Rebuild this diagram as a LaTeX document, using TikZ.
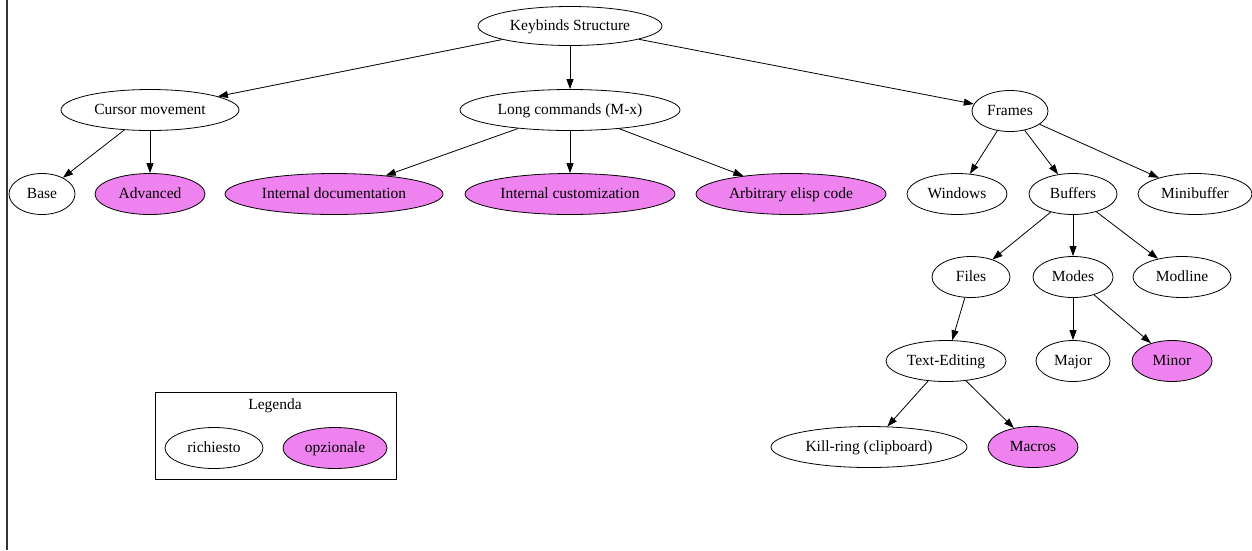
\documentclass[tikz,border=0pt]{standalone}
\usepackage{fontspec}
\setmainfont{Liberation Serif}
\usetikzlibrary{positioning,shapes.geometric,arrows.meta}

\definecolor{optviolet}{HTML}{EE82EE}

\begin{document}
\begin{tikzpicture}[x=1pt,y=1pt,
    every node/.style={font=\fontsize{15.5}{18}\selectfont},
    req/.style={ellipse,draw,line width=0.8pt,inner sep=0pt,minimum height=41pt,
      text height=12pt,text depth=2.5pt},
    opt/.style={req,fill=optviolet},
    arr/.style={line width=0.8pt,-{Triangle[length=10pt,width=7pt]}},
    node distance=80pt]
  \useasboundingbox (0,0) rectangle (1252,-550);
  \coordinate (edgetop) at (7,0);
  \coordinate (edgebot) at (7,-550);
  \draw[line width=1.4pt,black!80] (edgetop) -- (edgebot);

  % main tree
  \node (keys) [req,minimum width=184pt,minimum height=39pt] at (570,-26) {Keybinds Structure};
  \node (cursor) [req,minimum width=178pt,on grid,below left=84pt and 420pt of keys] {Cursor movement};
  \node (longcmd) [req,minimum width=220pt,on grid,below=84pt of keys] {Long commands (M-x)};
  \node (frames) [req,minimum width=76pt,on grid,below right=85pt and 440pt of keys] {Frames};

  \node (base) [req,minimum width=66pt,on grid,below left=84pt and 108pt of cursor] {Base};
  \node (advanced) [opt,minimum width=110pt,on grid,below=84pt of cursor] {Advanced};
  \node (intdoc) [opt,minimum width=218pt,on grid,below left=84pt and 236pt of longcmd] {Internal documentation};
  \node (intcust) [opt,minimum width=210pt,on grid,below=84pt of longcmd] {Internal customization};
  \node (elisp) [opt,minimum width=190pt,on grid,below right=84pt and 221pt of longcmd] {Arbitrary elisp code};

  \node (windows) [req,minimum width=100pt,on grid,below left=83pt and 53pt of frames] {Windows};
  \node (buffers) [req,minimum width=88pt,on grid,below right=83pt and 63pt of frames] {Buffers};
  \node (minibuf) [req,minimum width=114pt,on grid,below right=83pt and 185pt of frames] {Minibuffer};

  \node (files) [req,minimum width=78pt,on grid,below left=83pt and 102pt of buffers] {Files};
  \node (modes) [req,minimum width=80pt,on grid,below=83pt of buffers] {Modes};
  \node (modline) [req,minimum width=98pt,on grid,below right=83pt and 109pt of buffers] {Modline};

  \node (textedit) [req,minimum width=120pt,on grid,below left=84pt and 25pt of files] {Text-Editing};
  \node (major) [req,minimum width=74pt,on grid,below=84pt of modes] {Major};
  \node (minor) [opt,minimum width=80pt,on grid,below right=84pt and 99pt of modes] {Minor};

  \node (killring) [req,minimum width=196pt,on grid,below left=86pt and 77pt of textedit] {Kill-ring (clipboard)};
  \node (macros) [opt,minimum width=90pt,on grid,below right=86pt and 87pt of textedit] {Macros};

  \draw[arr] (keys) -- (cursor);
  \draw[arr] (keys) -- (longcmd);
  \draw[arr] (keys) -- (frames);
  \draw[arr] (cursor) -- (base);
  \draw[arr] (cursor) -- (advanced);
  \draw[arr] (longcmd) -- (intdoc);
  \draw[arr] (longcmd) -- (intcust);
  \draw[arr] (longcmd) -- (elisp);
  \draw[arr] (frames) -- (windows);
  \draw[arr] (frames) -- (buffers);
  \draw[arr] (frames) -- (minibuf);
  \draw[arr] (buffers) -- (files);
  \draw[arr] (buffers) -- (modes);
  \draw[arr] (buffers) -- (modline);
  \draw[arr] (files) -- (textedit);
  \draw[arr] (modes) -- (major);
  \draw[arr] (modes) -- (minor);
  \draw[arr] (textedit) -- (killring);
  \draw[arr] (textedit) -- (macros);

  % legend
  \node (legend) [draw,line width=0.9pt,minimum width=241pt,minimum height=87pt,inner sep=0pt] at (275.5,-435.5) {};
  \node (legtitle) at (275,-406) {Legenda};
  \node (legreq) [req,minimum width=98pt] at (214,-448) {richiesto};
  \node (legopt) [opt,minimum width=104pt] at (335,-448) {opzionale};
\end{tikzpicture}
\end{document}
